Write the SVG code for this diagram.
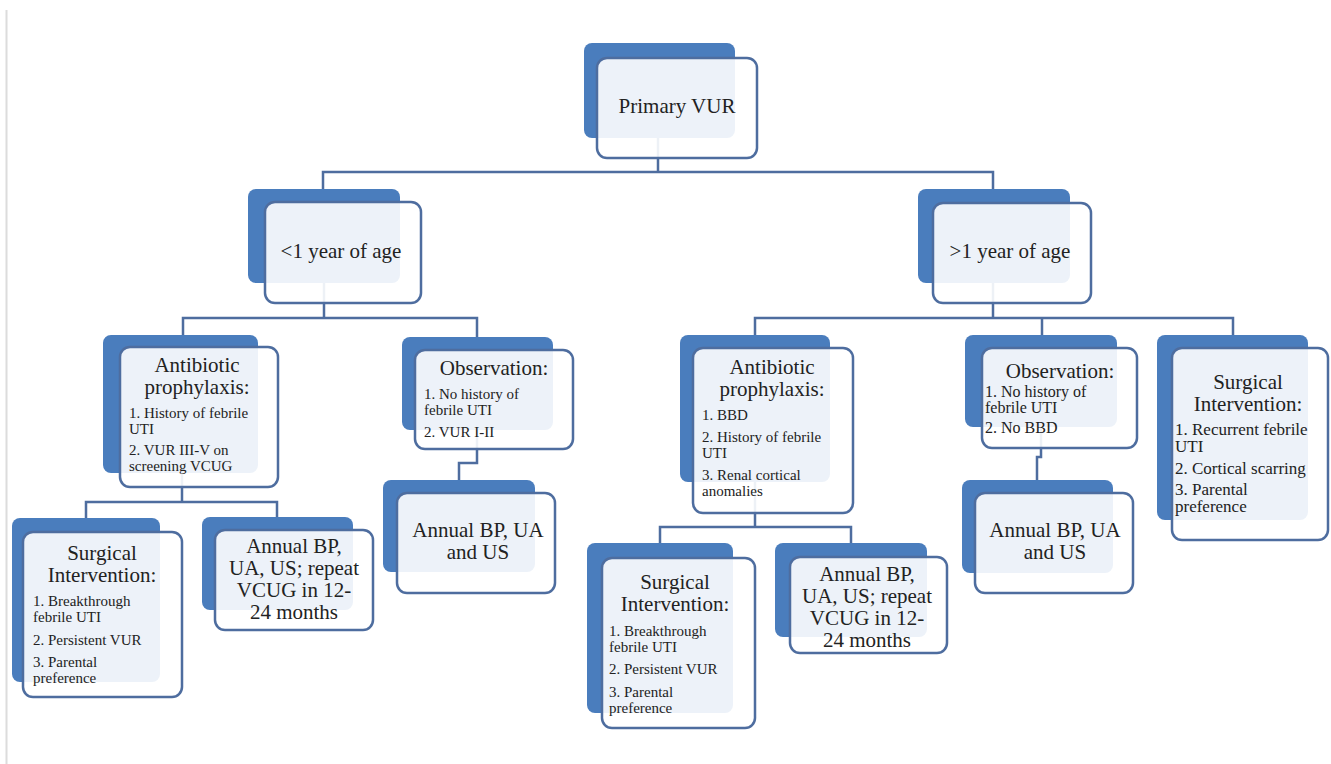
<svg xmlns="http://www.w3.org/2000/svg" width="1331" height="764" viewBox="0 0 1331 764">
<style>
.back{fill:#4a7dbd}
.front{fill:#ffffff;fill-opacity:0.9;stroke:#4e6d9f;stroke-width:2.5}
.conn{fill:none;stroke:#4e6d9f;stroke-width:2.5}
text{font-family:"Liberation Serif","Times New Roman",serif;fill:#222}
.h{font-size:21px;text-anchor:middle}
.i{font-size:15px}
.i16{font-size:16px}
.i17{font-size:17px}
</style>
<rect x="0" y="0" width="1331" height="764" fill="#ffffff"/>
<line x1="6.5" y1="10" x2="6.5" y2="764" stroke="#dcdcdc" stroke-width="2"/>
<g id="connectors">
<path class="conn" d="M658,138 V172"/>
<path class="conn" d="M323,189 V172 H993 V189"/>
<path class="conn" d="M324,283 V318"/>
<path class="conn" d="M183,335 V318 H477 V337"/>
<path class="conn" d="M993,283 V318"/>
<path class="conn" d="M755,335 V318 H1233 V335"/>
<path class="conn" d="M1042,318 V335"/>
<path class="conn" d="M182,473 V502"/>
<path class="conn" d="M86,518 V502 H277 V517"/>
<path class="conn" d="M755,482 V527"/>
<path class="conn" d="M660,543 V527 H851 V543"/>
<path class="conn" d="M477,430 V463 H459 V480"/>
<path class="conn" d="M1041,427 V457 H1037 V480"/>
</g>
<g id="primary">
<rect class="back" x="584" y="43" width="151" height="95" rx="8"/>
<rect class="front" x="597" y="58" width="160" height="100" rx="10"/>
<text class="h" x="677" y="113">Primary VUR</text>
</g>
<g id="under1">
<rect class="back" x="248" y="189" width="152" height="94" rx="8"/>
<rect class="front" x="265" y="202" width="156" height="101" rx="10"/>
<text class="h" x="341" y="258">&lt;1 year of age</text>
</g>
<g id="over1">
<rect class="back" x="918" y="189" width="152" height="94" rx="8"/>
<rect class="front" x="933" y="203" width="158" height="100" rx="10"/>
<text class="h" x="1010" y="258">&gt;1 year of age</text>
</g>
<g id="antibiotic-left">
<rect class="back" x="103" y="335" width="155" height="138" rx="8"/>
<rect class="front" x="120" y="347" width="158" height="140" rx="10"/>
<text class="h" x="197" y="372">Antibiotic</text>
<text class="h" x="197" y="394">prophylaxis:</text>
<text class="i" x="129" y="418">1. History of febrile</text>
<text class="i" x="129" y="434">UTI</text>
<text class="i" x="129" y="455">2. VUR III-V on</text>
<text class="i" x="129" y="471">screening VCUG</text>
</g>
<g id="observation-left">
<rect class="back" x="402" y="337" width="151" height="93" rx="8"/>
<rect class="front" x="415" y="350" width="158" height="99" rx="10"/>
<text class="h" x="494" y="375">Observation:</text>
<text class="i" x="424" y="399">1. No history of</text>
<text class="i" x="424" y="415">febrile UTI</text>
<text class="i" x="424" y="437">2. VUR I-II</text>
</g>
<g id="antibiotic-right">
<rect class="back" x="680" y="335" width="150" height="147" rx="8"/>
<rect class="front" x="693" y="348" width="160" height="165" rx="10"/>
<text class="h" x="772" y="374">Antibiotic</text>
<text class="h" x="772" y="396">prophylaxis:</text>
<text class="i" x="702" y="420">1. BBD</text>
<text class="i" x="702" y="442">2. History of febrile</text>
<text class="i" x="702" y="458">UTI</text>
<text class="i" x="702" y="480">3. Renal cortical</text>
<text class="i" x="702" y="496">anomalies</text>
</g>
<g id="observation-right">
<rect class="back" x="965" y="335" width="152" height="92" rx="8"/>
<rect class="front" x="982" y="348" width="155" height="100" rx="10"/>
<text class="h" x="1060" y="378">Observation:</text>
<text class="i16" x="985" y="397">1. No history of</text>
<text class="i16" x="985" y="413">febrile UTI</text>
<text class="i16" x="985" y="433">2. No BBD</text>
</g>
<g id="surgical-right">
<rect class="back" x="1157" y="335" width="151" height="185" rx="8"/>
<rect class="front" x="1172" y="348" width="156" height="192" rx="10"/>
<text class="h" x="1248" y="389">Surgical</text>
<text class="h" x="1248" y="411">Intervention:</text>
<text class="i17" x="1175" y="435">1. Recurrent febrile</text>
<text class="i17" x="1175" y="452">UTI</text>
<text class="i17" x="1175" y="474">2. Cortical scarring</text>
<text class="i17" x="1175" y="495">3. Parental</text>
<text class="i17" x="1175" y="512">preference</text>
</g>
<g id="surgical-left">
<rect class="back" x="12" y="518" width="148" height="164" rx="8"/>
<rect class="front" x="23" y="532" width="159" height="165" rx="10"/>
<text class="h" x="102" y="560">Surgical</text>
<text class="h" x="102" y="582">Intervention:</text>
<text class="i" x="33" y="606">1. Breakthrough</text>
<text class="i" x="33" y="622">febrile UTI</text>
<text class="i" x="33" y="645">2. Persistent VUR</text>
<text class="i" x="33" y="667">3. Parental</text>
<text class="i" x="33" y="683">preference</text>
</g>
<g id="annual-left">
<rect class="back" x="202" y="517" width="151" height="93" rx="8"/>
<rect class="front" x="215" y="530" width="158" height="100" rx="10"/>
<text class="h" x="294" y="553">Annual BP,</text>
<text class="h" x="294" y="575">UA, US; repeat</text>
<text class="h" x="294" y="597">VCUG in 12-</text>
<text class="h" x="294" y="619">24 months</text>
</g>
<g id="annual-obs-left">
<rect class="back" x="383" y="480" width="152" height="92" rx="8"/>
<rect class="front" x="397" y="493" width="158" height="100" rx="10"/>
<text class="h" x="478" y="537">Annual BP, UA</text>
<text class="h" x="478" y="559">and US</text>
</g>
<g id="surgical-mid">
<rect class="back" x="587" y="543" width="146" height="170" rx="8"/>
<rect class="front" x="602" y="558" width="153" height="170" rx="10"/>
<text class="h" x="675" y="589">Surgical</text>
<text class="h" x="675" y="611">Intervention:</text>
<text class="i" x="609" y="636">1. Breakthrough</text>
<text class="i" x="609" y="652">febrile UTI</text>
<text class="i" x="609" y="674">2. Persistent VUR</text>
<text class="i" x="609" y="697">3. Parental</text>
<text class="i" x="609" y="713">preference</text>
</g>
<g id="annual-mid">
<rect class="back" x="775" y="543" width="152" height="94" rx="8"/>
<rect class="front" x="790" y="557" width="157" height="96" rx="10"/>
<text class="h" x="867" y="581">Annual BP,</text>
<text class="h" x="867" y="603">UA, US; repeat</text>
<text class="h" x="867" y="625">VCUG in 12-</text>
<text class="h" x="867" y="647">24 months</text>
</g>
<g id="annual-obs-right">
<rect class="back" x="962" y="480" width="151" height="93" rx="8"/>
<rect class="front" x="975" y="493" width="158" height="100" rx="10"/>
<text class="h" x="1055" y="537">Annual BP, UA</text>
<text class="h" x="1055" y="559">and US</text>
</g>
</svg>
